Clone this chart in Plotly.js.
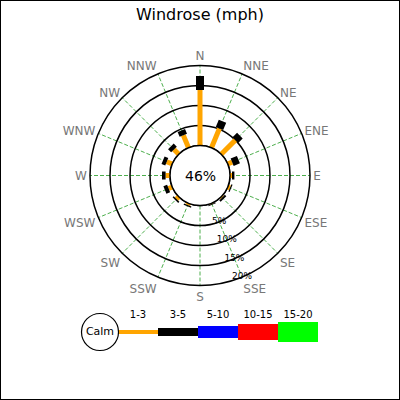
<!DOCTYPE html>
<html><head><meta charset="utf-8">
<script src="https://cdn.plot.ly/plotly-3.0.1.min.js"></script>
<style>
html,body{margin:0;padding:0;background:#fff}
#wrap{position:relative;width:400px;height:400px}
#chart{width:400px;height:400px}
#frame{position:absolute;left:0;top:0;width:400px;height:400px;box-sizing:border-box;border:1px solid #000;pointer-events:none}
</style>
</head><body><div id="wrap"><div id="chart"></div><div id="frame"></div></div>
<script>
// ---- data ----
const chartTitle = 'Windrose (mph)';
const directions = ['N','NNE','NE','ENE','E','ESE','SE','SSE','S','SSW','SW','WSW','W','WNW','NW','NNW'];
const speedBins = ['1-3','3-5','5-10','10-15','15-20'];
const freq_1_3   = [13.9, 5.2, 5.0, 1.2, 0.5, 0.6, 0.3, 0.2, 0.0, 0.5, 0.8, 1.0, 1.1, 1.5, 1.7, 3.4];
const freq_3_5   = [3.5, 2.0, 1.6, 1.7, 0.6, 0.3, 0.5, 0.2, 0.0, 0.3, 0.4, 1.0, 0.9, 1.0, 1.1, 1.3];
const freq_5_10  = [0, 0, 0, 0, 0, 0, 0, 0, 0, 0, 0, 0, 0, 0, 0, 0];
const freq_10_15 = [0, 0, 0, 0, 0, 0, 0, 0, 0, 0, 0, 0, 0, 0, 0, 0];
const freq_15_20 = [0, 0, 0, 0, 0, 0, 0, 0, 0, 0, 0, 0, 0, 0, 0, 0];
const calmPct = 46;
const radialTicks = [5, 10, 15, 20];
const radialTickLabels = ['5%', '10%', '15%', '20%'];

// ---- style ----
const FONT = 'DejaVu Sans, Verdana, sans-serif';
const binColors = ['#FFA500', '#000000', '#0000FF', '#FF0000', '#00FF00'];
const roseWidths = [5, 8, 12, 16, 20];
const legendWidths = [4, 8, 12, 16, 20];
const labelAngle = 157.5;

const series = [freq_1_3, freq_3_5, freq_5_10, freq_10_15, freq_15_20];
const angleOf = i => i * 360 / directions.length;
const traces = [];

// calm circle outline
const circTheta = [], circR = [];
for (let a = 0; a <= 360; a += 2) { circTheta.push(a); circR.push(0); }
traces.push({type:'scatterpolar', subplot:'polar', mode:'lines', r:circR, theta:circTheta,
  line:{color:'#000', width:1.5}, hoverinfo:'skip', showlegend:false});

// stacked rose segments
let base = directions.map(() => 0);
series.forEach((vals, k) => {
  const r = [], th = [];
  vals.forEach((v, i) => {
    if (v > 0) { r.push(base[i], base[i] + v, null); th.push(angleOf(i), angleOf(i), null); }
  });
  base = base.map((b, i) => b + vals[i]);
  if (r.length) traces.push({type:'scatterpolar', subplot:'polar', mode:'lines', r, theta:th,
    line:{color:binColors[k], width:roseWidths[k]}, hoverinfo:'skip', showlegend:false, connectgaps:false});
});

// radial labels
traces.push({type:'scatterpolar', subplot:'polar', mode:'text', r:radialTicks,
  theta:radialTicks.map(() => labelAngle), text:radialTickLabels, textposition:'middle center',
  textfont:{family:FONT, size:9, color:'#000'}, hoverinfo:'skip', showlegend:false, cliponaxis:false});

// legend bar
speedBins.forEach((b, k) => {
  traces.push({type:'scatter', xaxis:'x', yaxis:'y', mode:'lines', x:[k, k + 1], y:[0, 0],
    line:{color:binColors[k], width:legendWidths[k]}, hoverinfo:'skip', showlegend:false});
});
traces.push({type:'scatter', xaxis:'x', yaxis:'y', mode:'text', x:speedBins.map((b, k) => k + 0.5),
  y:speedBins.map(() => 0.68), text:speedBins, textposition:'middle center',
  textfont:{family:FONT, size:10, color:'#000'}, hoverinfo:'skip', showlegend:false, cliponaxis:false});
traces.push({type:'scatter', xaxis:'x', yaxis:'y', mode:'markers+text', x:[-0.45], y:[0], text:['Calm'],
  textposition:'middle center', textfont:{family:FONT, size:11, color:'#000'},
  marker:{size:37, color:'#fff', line:{color:'#000', width:1.2}}, hoverinfo:'skip', showlegend:false, cliponaxis:false});

const layout = {
  width:400, height:400, margin:{l:0, r:0, t:0, b:0},
  paper_bgcolor:'#fff', plot_bgcolor:'#fff',
  font:{family:FONT},
  title:{text:chartTitle, x:0.5, xanchor:'center', y:1 - 14/400, yanchor:'middle', font:{family:FONT, size:16, color:'#000'}},
  showlegend:false,
  polar:{
    domain:{x:[0.225, 0.775], y:[0.28625, 0.83625]},
    hole:30/110, bgcolor:'#fff',
    radialaxis:{range:[0, 20], tickvals:[5, 10, 15], showticklabels:false, ticks:'', showline:false,
      gridcolor:'#000', gridwidth:1.5},
    angularaxis:{direction:'clockwise', rotation:90, tickmode:'array',
      tickvals:directions.map((d, i) => angleOf(i)), ticktext:directions,
      tickfont:{family:FONT, size:12, color:'#777'}, ticks:'',
      showline:true, linecolor:'#000', linewidth:1.5,
      gridcolor:'rgba(0,140,0,0.7)', griddash:'4px,2px', gridwidth:1}
  },
  xaxis:{domain:[0.2, 0.8], range:[-0.95, 5.05], visible:false, fixedrange:true},
  yaxis:{domain:[0.1075, 0.2325], range:[-1, 1], visible:false, fixedrange:true},
  annotations:[{xref:'paper', yref:'paper', x:0.5, y:0.56125, text:calmPct + '%', showarrow:false,
    xanchor:'center', yanchor:'middle', font:{family:FONT, size:14, color:'#000'}}]
};

Plotly.newPlot('chart', traces, layout, {staticPlot:true, displayModeBar:false});
</script>
</body></html>
